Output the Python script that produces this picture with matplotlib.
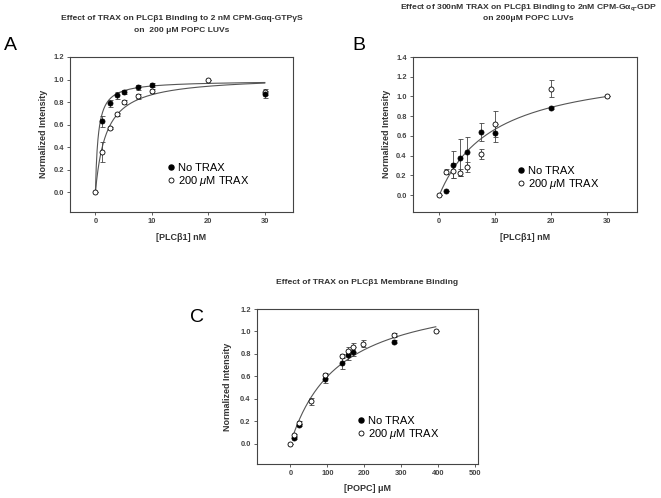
import numpy as np
import matplotlib
matplotlib.use("Agg")
import matplotlib.pyplot as plt
from matplotlib.lines import Line2D

plt.rcParams['font.family'] = ['Liberation Sans', 'DejaVu Sans']
plt.rcParams['mathtext.fontset'] = 'custom'
plt.rcParams['mathtext.rm'] = 'Liberation Sans'
plt.rcParams['mathtext.it'] = 'Liberation Sans:italic'
plt.rcParams['mathtext.bf'] = 'Liberation Sans:bold'

# ---------------- Panel A data ----------------
a_x_no = [1.25, 2.5, 3.75, 5, 7.5, 10, 30]
a_y_no = [0.63, 0.79, 0.86, 0.89, 0.93, 0.95, 0.87]
a_e_no = [0.05, 0.03, 0.03, 0.02, 0.02, 0.02, 0.03]
a_x_tr = [0, 1.25, 2.5, 3.75, 5, 7.5, 10, 20, 30]
a_y_tr = [0.0, 0.36, 0.57, 0.69, 0.80, 0.85, 0.90, 1.00, 0.89]
a_e_tr = [0.0, 0.09, 0.01, 0.01, 0.02, 0.02, 0.02, 0.0, 0.03]
a_fit_no = (0.99, 0.50)   # Bmax, Kd
a_fit_tr = (1.03, 1.90)

# ---------------- Panel B data ----------------
b_x_no = [1.25, 2.5, 3.75, 5, 7.5, 10, 20]
b_y_no = [0.04, 0.31, 0.38, 0.44, 0.64, 0.63, 0.88]
b_e_no = [0.0, 0.14, 0.19, 0.15, 0.09, 0.09, 0.01]
b_x_tr = [0, 1.25, 2.5, 3.75, 5, 7.5, 10, 20, 30]
b_y_tr = [0.0, 0.24, 0.25, 0.23, 0.29, 0.42, 0.72, 1.08, 1.00]
b_e_tr = [0.0, 0.03, 0.08, 0.04, 0.05, 0.05, 0.13, 0.09, 0.0]
b_fit = (1.33, 9.9)

# ---------------- Panel C data ----------------
c_x_no = [9, 24, 95, 140, 155, 168, 280]
c_y_no = [0.05, 0.17, 0.58, 0.72, 0.79, 0.82, 0.91]
c_e_no = [0.01, 0.01, 0.04, 0.05, 0.04, 0.04, 0.01]
c_x_tr = [0, 9, 24, 57, 95, 140, 155, 168, 195, 280, 393]
c_y_tr = [0.0, 0.08, 0.19, 0.38, 0.61, 0.78, 0.83, 0.86, 0.89, 0.97, 1.00]
c_e_tr = [0.0, 0.01, 0.01, 0.03, 0.02, 0.02, 0.03, 0.04, 0.03, 0.02, 0.0]
c_fit = (1.392, 132.0)

W, H = 661, 498
fig = plt.figure(figsize=(W / 100, H / 100), dpi=100)


def px_axes(left, top, right, bottom):
    return fig.add_axes([left / W, 1 - bottom / H, (right - left) / W, (bottom - top) / H])


def ftext(x, y, s, **kw):
    fig.text(x / W, 1 - y / H, s, **kw)


TICK_KW = dict(fontsize=5.4, fontweight='bold', color='#444444')
LC = '#555555'
TC = '#333333'
TITLE_FS = 6.1
LABEL_FS = 6.5


def style(ax, xlim, ylim, xticks, yticks):
    ax.set_xlim(*xlim)
    ax.set_ylim(*ylim)
    ax.set_xticks(xticks)
    ax.set_yticks(yticks)
    ax.set_xticklabels([str(t) for t in xticks], **TICK_KW)
    ax.set_yticklabels(['%.1f' % t for t in yticks], **TICK_KW)
    ax.tick_params(direction='out', length=2.5, width=0.6, color='#444444', pad=2)
    for s in ax.spines.values():
        s.set_color('#444444')
        s.set_linewidth(0.8)


def draw_points(ax, x, y, e, filled):
    ax.errorbar(x, y, yerr=e, fmt='none', ecolor='#444444', elinewidth=0.6,
                capsize=1.8, capthick=0.6, zorder=3)
    ax.plot(x, y, 'o', ms=3.6, mec='black', mew=0.6,
            mfc='black' if filled else 'white', zorder=4, linestyle='none')


def hyper(ax, p, x0, x1):
    xs = np.linspace(x0, x1, 400)
    ax.plot(xs, p[0] * xs / (p[1] + xs), color=LC, lw=0.8, zorder=2)


def legend(ax, x, y):
    h = [Line2D([], [], marker='o', ls='none', ms=3.6, mfc='black', mec='black'),
         Line2D([], [], marker='o', ls='none', ms=3.6, mfc='white', mec='black', mew=0.6)]
    ax.legend(h, ['No TRAX', '200 $\\mathit{\u03bc}$M TRAX'], loc='upper left',
              bbox_to_anchor=(x / W, 1 - y / H), bbox_transform=fig.transFigure,
              frameon=False, fontsize=8, handlelength=0.5, handletextpad=0.4,
              labelspacing=0.12, borderpad=0, borderaxespad=0)


# ---------------- Panel A ----------------
axA = px_axes(70, 57, 293, 212)
hyper(axA, a_fit_no, 0.0, 30)
hyper(axA, a_fit_tr, 0.0, 30)
draw_points(axA, a_x_tr, a_y_tr, a_e_tr, False)
draw_points(axA, a_x_no, a_y_no, a_e_no, True)
style(axA, (-4.5, 35), (-0.175, 1.2), [0, 10, 20, 30], [0, 0.2, 0.4, 0.6, 0.8, 1.0, 1.2])
legend(axA, 168, 163)
ftext(182, 19, 'Effect of TRAX on PLC\u03b21 Binding to 2 nM CPM-G\u03b1q-GTP\u03b3S',
      ha='center', va='center', fontsize=TITLE_FS, fontweight='bold', color=TC)
ftext(182, 31, 'on  200 \u03bcM POPC LUVs', ha='center', va='center',
      fontsize=TITLE_FS, fontweight='bold', color=TC)
ftext(44, 134, 'Normalized Intensity', rotation=90, ha='center', va='center',
      fontsize=LABEL_FS, fontweight='bold', color=TC)
ftext(181, 238, '[PLC\u03b21] nM', ha='center', va='center',
      fontsize=LABEL_FS, fontweight='bold', color=TC)
ftext(10, 45, 'A', ha='center', va='center', fontsize=14)

# ---------------- Panel B ----------------
axB = px_axes(413, 57, 637, 212)
hyper(axB, b_fit, 0.0, 30)
draw_points(axB, b_x_no, b_y_no, b_e_no, True)
draw_points(axB, b_x_tr, b_y_tr, b_e_tr, False)
style(axB, (-4.7, 35.4), (-0.17, 1.4), [0, 10, 20, 30],
      [0, 0.2, 0.4, 0.6, 0.8, 1.0, 1.2, 1.4])
legend(axB, 518, 166)
ftext(528, 8, 'Effect of 300nM TRAX on PLC\u03b21 Binding to 2nM CPM-G$\\mathbf{\u03b1_q}$-GDP',
      ha='center', va='center', fontsize=TITLE_FS, fontweight='bold', color=TC)
ftext(528, 19, 'on 200\u03bcM POPC LUVs', ha='center', va='center',
      fontsize=TITLE_FS, fontweight='bold', color=TC)
ftext(387, 134, 'Normalized Intensity', rotation=90, ha='center', va='center',
      fontsize=LABEL_FS, fontweight='bold', color=TC)
ftext(525, 238, '[PLC\u03b21] nM', ha='center', va='center',
      fontsize=LABEL_FS, fontweight='bold', color=TC)
ftext(359, 46, 'B', ha='center', va='center', fontsize=14)

# ---------------- Panel C ----------------
axC = px_axes(257, 309, 478, 464)
hyper(axC, c_fit, 5, 393)
draw_points(axC, c_x_no, c_y_no, c_e_no, True)
draw_points(axC, c_x_tr, c_y_tr, c_e_tr, False)
style(axC, (-90, 507), (-0.178, 1.2), [0, 100, 200, 300, 400, 500],
      [0, 0.2, 0.4, 0.6, 0.8, 1.0, 1.2])
legend(axC, 358, 416)
ftext(367, 283, 'Effect of TRAX on PLC\u03b21 Membrane Binding', ha='center', va='center',
      fontsize=TITLE_FS, fontweight='bold', color=TC)
ftext(228, 387, 'Normalized Intensity', rotation=90, ha='center', va='center',
      fontsize=LABEL_FS, fontweight='bold', color=TC)
ftext(368, 488, '[POPC] \u03bcM', ha='center', va='center',
      fontsize=LABEL_FS, fontweight='bold', color=TC)
ftext(197, 318, 'C', ha='center', va='center', fontsize=14)

fig.savefig('out.png', dpi=100, facecolor='white')
